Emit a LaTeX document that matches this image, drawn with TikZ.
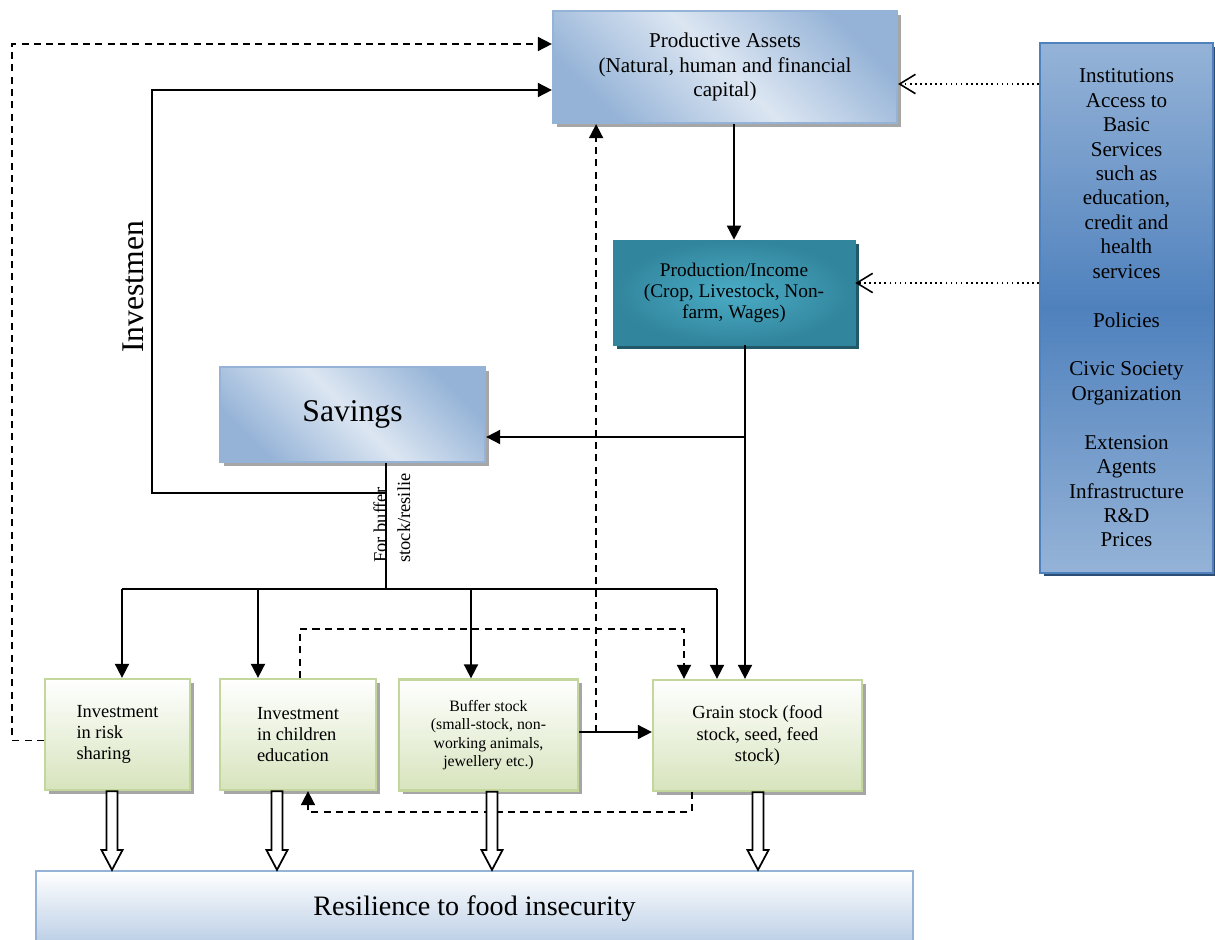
\documentclass[tikz,border=0pt]{standalone}
\usepackage{fontspec}
\setmainfont{Liberation Serif}
\usepackage{tikz}
\usetikzlibrary{arrows.meta,shapes,shadows,calc}
\usetikzlibrary{positioning}
\definecolor{blueL}{HTML}{DCE6F2}
\definecolor{blueD}{HTML}{95B3D7}
\definecolor{tealD}{HTML}{31859C}
\definecolor{tealL}{HTML}{4BACC6}
\definecolor{tealS}{HTML}{215968}
\definecolor{instM}{HTML}{4F81BD}
\definecolor{instL}{HTML}{95B3D7}
\definecolor{instS}{HTML}{2C4D75}
\definecolor{grnL}{HTML}{D7E4BD}
\definecolor{grnB}{HTML}{C3D69B}
\definecolor{resL}{HTML}{B9CDE5}
\tikzstyle{Abox}=[rectangle,inner sep=0,align=center]
\tikzstyle{Agray}=[drop shadow={shadow xshift=2.2pt,shadow yshift=-2.2pt,fill=black!35,opacity=1}]
\tikzstyle{Ablue}=[Abox,Agray,draw=blueD,line width=1.3pt,top color=blueD,bottom color=blueD,middle color=blueL,shading angle=-45]
\tikzstyle{Ateal}=[Abox,draw=tealD,inner color=tealL,outer color=tealD,
               drop shadow={shadow xshift=2.2pt,shadow yshift=-2.2pt,fill=tealS,opacity=1}]
\tikzstyle{Ainst}=[Abox,draw=instM,line width=1.3pt,top color=instL,bottom color=instL,middle color=instM,
               drop shadow={shadow xshift=2pt,shadow yshift=-2pt,fill=instS,opacity=1}]
\tikzstyle{Agrn}=[Abox,Agray,draw=grnB,line width=1.3pt,top color=white,bottom color=grnL,minimum height=2.22cm]
\tikzstyle{Ares}=[Abox,draw=blueD,line width=1.3pt,top color=white,bottom color=resL]
\tikzstyle{Aline}=[line width=1pt]
\tikzstyle{Aarr}=[Aline,-{Triangle[length=8pt,width=8pt]}]
\tikzstyle{Adarr}=[Aarr,dash pattern=on 4pt off 3pt]
\tikzstyle{Adot}=[line width=0.9pt,dotted,-{Straight Barb[length=9pt,width=11pt]}]
\tikzstyle{Afat}=[draw,fill=white,line width=1pt,to path={let \p1=(\tikztostart),\p2=(\tikztotarget) in
               (\x1-3.1pt,\y1) -- (\x1-3.1pt,\y2+11.3pt) -- (\x1-6pt,\y2+11.3pt) -- (\x1,\y2)
               -- (\x1+6pt,\y2+11.3pt) -- (\x1+3.1pt,\y2+11.3pt) -- (\x1+3.1pt,\y1) -- cycle}]
\newcommand{\tofork}[2]{\coordinate (#1t) at ($(#1.north)+(#2,0)$);\draw[Aarr] (#1t |- cH) -- (#1t);}
\newcommand{\toRF}[2]{\draw[Afat] ($(#1.south)+(#2,0)$) to (RF.north);}

\begin{document}
\begin{tikzpicture}[x=0.02cm,y=-0.02cm]
  \useasboundingbox (0,0) rectangle (1215,940);

  \node[Ablue,minimum width=6.88cm,minimum height=2.24cm,font=\fontsize{12}{13.8}\selectfont] (PA) at (725,67)
    {Productive Assets\\(Natural, human and financial\\capital)};
  \node[Ainst,minimum width=3.46cm,minimum height=10.6cm,font=\fontsize{12}{13.9}\selectfont] (Inst) at (1126.5,308)
    {Institutions\\Access to\\Basic\\Services\\such as\\education,\\credit and\\health\\services\\[13.9pt]Policies\\[13.9pt]Civic Society\\Organization\\[13.9pt]Extension\\Agents\\Infrastructure\\R\&D\\Prices};
  \node[Ateal,minimum width=4.84cm,minimum height=2.1cm,font=\fontsize{11}{12}\selectfont] (PI) at (734,292.5)
    {Production/Income\\(Crop, Livestock, Non-\\farm, Wages)};
  \node[Ablue,minimum width=5.3cm,minimum height=1.9cm,font=\fontsize{18}{20}\selectfont] (Sav) at (352.5,414.5) {Savings};
  \node[Agrn,minimum width=2.9cm,align=left,font=\fontsize{10.5}{12.2}\selectfont] (IR) at (117.5,734.5)
    {Investment\\in risk\\sharing};
  \node[Agrn,minimum width=3.12cm,align=left,font=\fontsize{10.5}{12.2}\selectfont] (IC) at (298,734.5)
    {Investment\\in children\\education};
  \node[Agrn,minimum width=3.58cm,font=\fontsize{9}{10.5}\selectfont] (BS) at (488.5,735)
    {Buffer stock\\(small-stock, non-\\working animals,\\jewellery etc.)};
  \node[Agrn,minimum width=4.18cm,font=\fontsize{10.5}{12.3}\selectfont] (GS) at (757.5,735.5)
    {Grain stock (food\\stock, seed, feed\\stock)};
  \node[Ares,minimum width=17.54cm,minimum height=1.5cm,font=\fontsize{16}{18}\selectfont] (RF) at (474.5,908.5)
    {Resilience to food insecurity};

  \node[rotate=90,font=\fontsize{18}{20}\selectfont] (lInv) at (133,287) {Investmen};
  \node[rotate=90,anchor=north west,inner sep=0,align=left,font=\fontsize{10.5}{13.6}\selectfont] (lBuf) at (373,563)
    {For buffer\\stock/resilie};

  \coordinate (cS) at (745,437);
  \coordinate (cV) at (386,493);
  \coordinate (cH) at (386,589);
  \coordinate (cI) at (152,90);
  \coordinate (cO) at (12,44);
  \coordinate (cB) at ($(BS.east)+(17,-3)$);
  \coordinate (dA) at ($(Inst.west)+(0,-224)$);
  \coordinate (dB) at ($(Inst.west)+(0,-25)$);

  \draw[Aarr] (PA.south -| PI.north) -- (PI.north);
  \draw[Aline] (PI.south -| cS) -- (cS);
  \draw[Aarr] (cS) -- (cS -| Sav.east);
  \draw[Aarr] (cS) -- (cS |- GS.north);
  \draw[Aline] (Sav.south -| cH) -- (cH);
  \draw[Aarr] (cV) -| (cI) -- (cI -| PA.west);
  \tofork{IR}{4.5}
  \tofork{IC}{-40}
  \tofork{BS}{-17.5}
  \tofork{GS}{-40.5}
  \draw[Aline] (IRt |- cH) -- (GSt |- cH);

  \draw[Adarr] ($(IR.west)+(0,6)$) -| (cO) -- (cO -| PA.west);
  \draw[Adarr] ($(IC.north)+(2,0)$) |- ($(GS.north)+(-73.5,-50)$) -- ($(GS.north)+(-73.5,0)$);
  \draw[Aarr] (cB -| BS.east) -- (cB -| GS.west);
  \draw[Adarr] (cB) -- (cB |- PA.south);
  \draw[Adarr] ($(GS.south)+(-65.5,0)$) -- ++(0,20) -| ($(IC.south)+(10,0)$);

  \draw[Adot] (dA) -- (dA -| PA.east);
  \draw[Adot] (dB) -- (dB -| PI.east);

  \toRF{IR}{-5.5}
  \toRF{IC}{-21}
  \toRF{BS}{3.5}
  \toRF{GS}{0.5}
\end{tikzpicture}
\end{document}
